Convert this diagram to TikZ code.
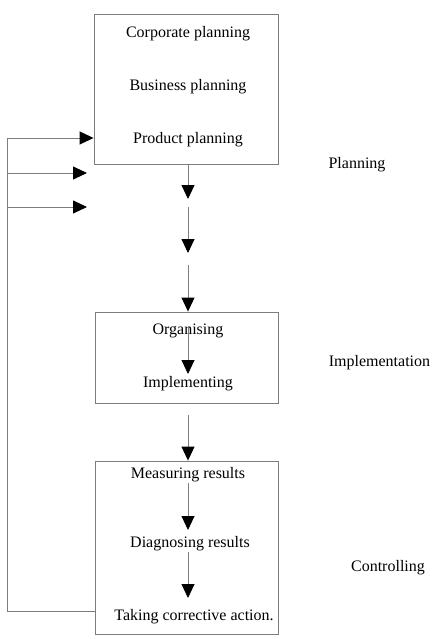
\documentclass[tikz,border=0pt]{standalone}
\usepackage{fontspec}
\setmainfont{Liberation Serif}
\usetikzlibrary{arrows.meta}
\definecolor{linegray}{RGB}{125,125,125}
\tikzset{
  frame/.style={draw=linegray, line width=0.9pt, inner sep=0pt},
  lbl/.style={inner sep=0pt, font=\fontsize{16}{19}\selectfont},
  flow/.style={draw=linegray, line width=0.9pt, -{Triangle[length=14pt,width=13pt,color=black]}},
  plain/.style={draw=linegray, line width=0.9pt},
}
\begin{document}
\begin{tikzpicture}[x=1pt,y=-1pt]
\useasboundingbox (0,0) rectangle (432,639);
% boxes
\node[frame, minimum width=184pt, minimum height=150pt] (box1) at (186,89) {};
\node[frame, minimum width=183pt, minimum height=91pt] (box2) at (186.5,357.5) {};
\node[frame, minimum width=183pt, minimum height=173pt] (box3) at (186.5,547.5) {};
% texts
\node[lbl] (corp) at (188,34) {Corporate planning};
\node[lbl] (bus) at (188,87) {Business planning};
\node[lbl] (prod) at (188,140) {Product planning};
\node[lbl] (org) at (188,331) {Organising};
\node[lbl] (impl) at (188,384) {Implementing};
\node[lbl] (meas) at (188,475) {Measuring results};
\node[lbl] (diag) at (190,544) {Diagnosing results};
\node[lbl] (take) at (194,617) {Taking corrective action.};
\node[lbl] (planning) at (357,165) {Planning};
\node[lbl] (implementation) at (379.5,363) {Implementation};
\node[lbl] (controlling) at (388,568) {Controlling};
% coordinates for the broken arrow chain
\coordinate (c1) at (188,199);
\coordinate (c2) at (188,207);
\coordinate (c3) at (188,253);
\coordinate (c4) at (188,265);
\coordinate (c5) at (188,415);
\coordinate (o1) at (188,327);
\coordinate (o2) at (188,374);
\coordinate (m1) at (188,483);
\coordinate (m2) at (188,530);
\coordinate (d1) at (188,552);
\coordinate (d2) at (188,598);
% vertical arrows
\draw[flow] (box1.south -| c1) -- (c1);
\draw[flow] (c2) -- (c3);
\draw[flow] (c4) -- (box2.north -| c4);
\draw[flow] (o1) -- (o2);
\draw[flow] (c5) -- (box3.north -| c5);
\draw[flow] (m1) -- (m2);
\draw[flow] (d1) -- (d2);
% feedback loop
\coordinate (fb0) at (95,611);
\coordinate (fb1) at (7,611);
\coordinate (fb2) at (7,138);
\coordinate (f2) at (7,173);
\coordinate (f3) at (7,207);
\coordinate (t2) at (87,173);
\coordinate (t3) at (87,207);
\draw[plain] (box3.west |- fb0) -- (fb1) -- (fb2);
\draw[flow] (fb2) -- (box1.west |- fb2);
\draw[flow] (f2) -- (t2);
\draw[flow] (f3) -- (t3);
\end{tikzpicture}
\end{document}
